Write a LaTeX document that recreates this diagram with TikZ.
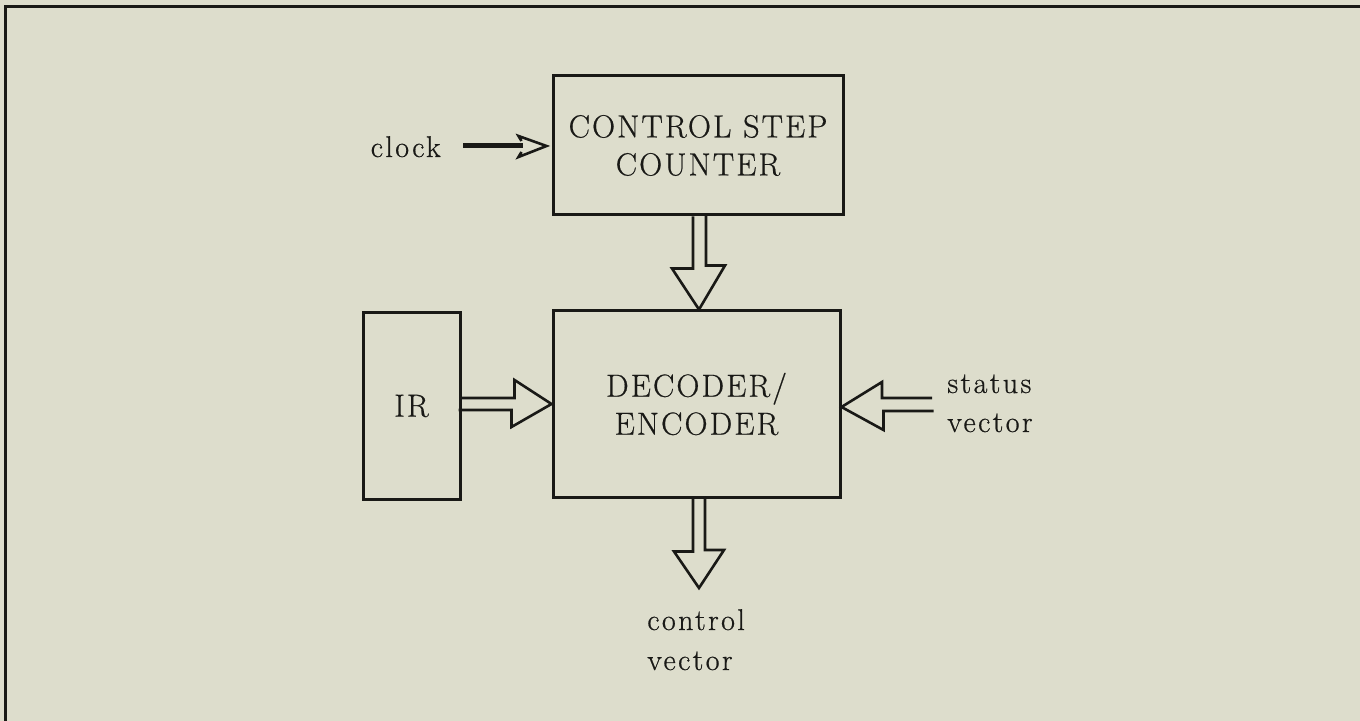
\documentclass[tikz,border=0pt]{standalone}
\usepackage{fontspec}
\usetikzlibrary{calc}
\newfontfamily\boxfont{Latin Modern Roman}[LetterSpace=6.5, FakeBold=0.6]
\newfontfamily\lblfont{Latin Modern Roman}[LetterSpace=8, FakeBold=0.6]
\definecolor{bg}{RGB}{221,221,204}
\definecolor{ink}{RGB}{25,25,22}
\begin{document}
\begin{tikzpicture}[x=0.5pt,y=-0.5pt, color=ink,
  box/.style={draw=ink, line width=1.5pt, rectangle, inner sep=0pt, align=center,
    font=\boxfont\fontsize{16}{19}\selectfont, text=ink},
  lbl/.style={inner sep=0pt, font=\lblfont\fontsize{15}{19.5}\selectfont, text=ink},
  harrow/.style={draw=ink, line width=1.3pt, line join=miter}]
\fill[bg] (0,0) rectangle (1360,721);
\useasboundingbox (0,0) rectangle (1360,721);
% frame
\draw[line width=1.5pt] (5,721) -- (5,7) -- (1360,7);
% boxes
\node[box, minimum width=145pt, minimum height=69.5pt] (csc) at (698,145.5) {CONTROL STEP\\COUNTER};
\node[box, minimum width=143.5pt, minimum height=93pt] (de) at (696.5,404) {DECODER/\\ENCODER};
\node[box, minimum width=48.5pt, minimum height=93pt] (ir) at (411.5,406) {IR};
% labels
\node[lbl, anchor=base east] (clocklbl) at (441,157) {clock};
\node[lbl, anchor=base west] (st1) at (947,393) {status};
\node[lbl, anchor=base west] (st2) at (947,432) {vector};
\node[lbl, anchor=base west] (cv1) at (647,630) {control};
\node[lbl, anchor=base west] (cv2) at (647,670) {vector};
% free ends
\coordinate (clk) at (463,146);
\coordinate (sv) at (932,404.5);
\coordinate (cv) at (699,588);
% clock arrow
\coordinate (ct) at ($(csc.west)+(-5,0.5)$);
\draw[line width=2.5pt] (clk) -- ($(ct)+(-24,0)$);
\draw[harrow] ($(ct)+(-25,-5)$) -- ++(-3,-5) -- (ct) -- ++(-28,11) -- ++(3,-5);
% csc -> de
\draw[harrow] ($(csc.south)+(-5,0)$) -- ++(0,52) -- ++(-21,0) -- ($(de.north)+(2.5,0)$) -- ++(26,-44) -- ++(-19,0) -- ++(0,-52);
% ir -> de
\draw[harrow] ($(ir.east)+(0,-8)$) -- ++(53,0) -- ++(0,-18) -- (de.west) -- ++(-40,23) -- ++(0,-17) -- ++(-53,0);
% status vector -> de
\draw[harrow] ($(sv)+(0,-6.5)$) -- ++(-50,0) -- ++(0,-16) -- ($(de.east)+(0,3)$) -- ++(42,23) -- ++(0,-19) -- ++(50,0);
% de -> control vector
\draw[harrow] ($(de.south)+(-3.5,0)$) -- ++(0,53) -- ++(-19,0) -- (cv) -- ++(25,-38) -- ++(-19,0) -- ++(0,-53);
\end{tikzpicture}
\end{document}
